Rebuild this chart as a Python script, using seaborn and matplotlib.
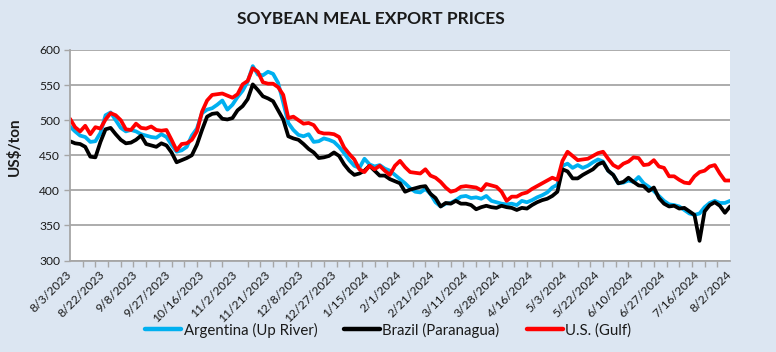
import matplotlib
matplotlib.use("Agg")
import matplotlib.pyplot as plt
import seaborn as sns
import pandas as pd

# trading days on the category axis (weekdays, 2/19/2024 not reported)
trade_days = pd.bdate_range("2023-08-03", "2024-08-02").drop(pd.Timestamp("2024-02-19"))

series_names = ["Argentina (Up River)", "Brazil (Paranagua)", "U.S. (Gulf)"]
series_colors = ["#00B0F0", "#000000", "#FF0000"]

argentina = [
    491, 484, 478, 476, 469, 470, 482, 507, 511, 500,
    489, 484, 486, 484, 480, 478, 476, 475, 480, 476,
    465, 455, 457, 462, 478, 488, 510, 515, 517, 522,
    528, 515, 522, 533, 542, 555, 577, 565, 564, 569,
    566, 553, 525, 496, 486, 479, 477, 480, 469, 470,
    474, 472, 469, 462, 453, 443, 435, 432, 445, 437,
    434, 436, 431, 428, 422, 416, 410, 403, 398, 397,
    402, 395, 383, 377, 381, 382, 386, 391, 392, 389,
    390, 388, 392, 385, 383, 381, 380, 381, 379, 385,
    383, 386, 390, 393, 397, 404, 408, 435, 438, 432,
    436, 432, 435, 440, 444, 441, 428, 422, 410, 411,
    414, 412, 419, 410, 405, 399, 392, 385, 380, 379,
    377, 372, 367, 365, 367, 376, 382, 385, 382, 382,
    385,
]
brazil = [
    470, 467, 466, 462, 448, 447, 469, 487, 489, 480,
    472, 467, 468, 472, 478, 466, 464, 462, 467, 464,
    454, 440, 443, 446, 450, 465, 486, 505, 509, 510,
    502, 501, 503, 514, 520, 530, 551, 543, 534, 531,
    527, 514, 501, 477, 474, 472, 466, 459, 454, 446,
    447, 449, 454, 449, 437, 428, 422, 424, 428, 435,
    428, 421, 421, 416, 413, 410, 398, 401, 403, 405,
    406, 395, 389, 377, 382, 381, 385, 381, 381, 379,
    373, 376, 378, 376, 375, 378, 376, 375, 372, 375,
    374, 379, 383, 386, 388, 392, 398, 430, 427, 417,
    417, 422, 426, 430, 437, 440, 428, 422, 410, 412,
    418, 412, 407, 406, 399, 404, 389, 381, 377, 378,
    374, 375, 370, 365, 328, 370, 379, 383, 378, 368,
    377,
]
us_gulf = [
    502, 490, 484, 492, 480, 490, 488, 501, 510, 507,
    500, 487, 486, 495, 489, 488, 491, 486, 485, 486,
    472, 457, 466, 467, 472, 484, 512, 528, 536, 537,
    538, 535, 532, 537, 551, 556, 574, 569, 554, 552,
    552, 547, 536, 503, 505, 500, 495, 496, 493, 483,
    481, 481, 480, 476, 461, 452, 444, 430, 426, 435,
    430, 435, 428, 422, 435, 442, 433, 426, 425, 424,
    430, 421, 418, 412, 404, 398, 400, 405, 406, 405,
    404, 400, 409, 407, 405, 398, 385, 391, 391, 395,
    397, 402, 406, 410, 414, 418, 415, 442, 455, 449,
    443, 444, 445, 449, 453, 455, 445, 436, 432, 438,
    441, 447, 446, 436, 437, 443, 434, 432, 420, 420,
    415, 411, 410, 420, 426, 428, 434, 436, 424, 414,
    414,
]

sample_days = trade_days[::2]
pos = list(trade_days.get_indexer(sample_days))

df = pd.DataFrame({
    "day": pos * 3,
    "price": argentina + brazil + us_gulf,
    "series": [n for n in series_names for _ in pos],
})

bg = "#DCE6F2"
grid_grey = "#A6A6A6"
text_col = "#1A1A1A"

sns.set_style("white")
plt.rcParams["font.family"] = ["Lato", "DejaVu Sans"]

fig = plt.figure(figsize=(7.76, 3.52), dpi=100, facecolor=bg)
ax = fig.add_axes([70 / 776, 1 - 260.5 / 352, 660 / 776, 210.5 / 352])
ax.set_facecolor("white")

sns.lineplot(data=df, x="day", y="price", hue="series", hue_order=series_names,
             palette=dict(zip(series_names, series_colors)), linewidth=2.7,
             errorbar=None, ax=ax)
for ln in ax.lines:
    ln.set_solid_joinstyle("round")
    ln.set_solid_capstyle("round")

n = len(trade_days)
ax.set_xlim(0, n - 1)
ax.set_ylim(300, 600)
ax.set_yticks(range(300, 601, 50))
ax.yaxis.grid(True, color=grid_grey, lw=1.3)
ax.set_axisbelow(True)

label_pos = list(range(0, n, 13))
ax.set_xticks(label_pos)
ax.set_xticklabels([f"{d.month}/{d.day}/{d.year}" for d in trade_days[label_pos]],
                   rotation=45, ha="right", va="center", rotation_mode="anchor")
ax.set_xticks(range(0, n, 5), minor=True)
ax.tick_params(axis="x", which="major", length=0, pad=9, labelsize=8.7, labelcolor=text_col)
ax.tick_params(axis="x", which="minor", length=4, width=1, color=grid_grey, direction="out")
ax.tick_params(axis="y", length=4, width=1, color=grid_grey, pad=3, labelsize=8.7,
               labelcolor=text_col, direction="out")
ax.xaxis.set_ticks_position("bottom")
ax.yaxis.set_ticks_position("left")

for side in ["top", "right"]:
    ax.spines[side].set_visible(False)
for side in ["left", "bottom"]:
    ax.spines[side].set_color(grid_grey)
    ax.spines[side].set_linewidth(1.3)

ax.set_xlabel("")
ax.set_ylabel("")

handles, labels = ax.get_legend_handles_labels()
ax.get_legend().remove()
leg = fig.legend(handles, labels, loc="center", bbox_to_anchor=(0.5, 1 - 330 / 352),
                 ncol=3, frameon=False, fontsize=10.8, handlelength=2.4,
                 handletextpad=0.15, columnspacing=1.8)
for t in leg.get_texts():
    t.set_color(text_col)
for h in leg.legend_handles:
    h.set_linewidth(3.2)

fig.text(371 / 776, 1 - 19.5 / 352, "SOYBEAN MEAL EXPORT PRICES", ha="center", va="center",
         fontsize=12.5, fontweight="bold", color=text_col)
fig.text(14 / 776, 1 - 147 / 352, "US$/ton", ha="center", va="center", rotation=90,
         fontsize=11, fontweight="bold", color=text_col)

fig.savefig("out.png", dpi=100, facecolor=bg)
